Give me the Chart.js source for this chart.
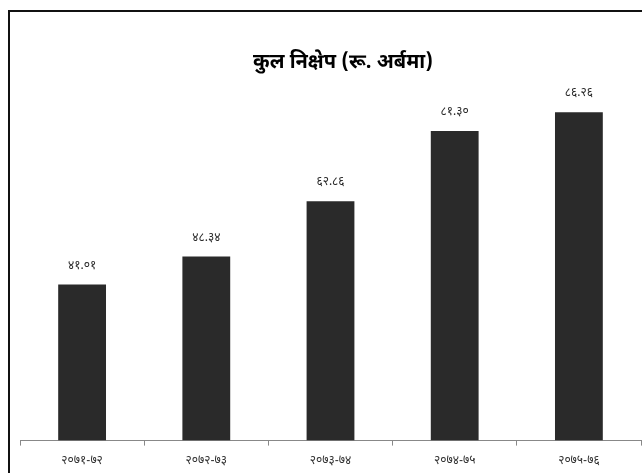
<!DOCTYPE html>
<html>
<head>
<meta charset="utf-8">
<script src="https://cdn.jsdelivr.net/npm/chart.js@4/dist/chart.umd.min.js"></script>
<style>
  html, body { margin: 0; padding: 0; background: #ffffff; overflow: hidden; }
  #wrap { position: relative; width: 642px; height: 473px; overflow: hidden; }
  #frame {
    position: absolute; left: 8px; top: 10px; width: 660px; height: 480px;
    border-left: 2px solid #111; border-top: 2px solid #111; box-sizing: border-box;
  }
  #box { position: absolute; left: 0; top: 0; width: 642px; height: 480px; }
</style>
</head>
<body>
<div id="wrap">
  <div id="frame"></div>
  <div id="box"><canvas id="chart"></canvas></div>
</div>
<script>
// कुल निक्षेप, आर्थिक वर्ष अनुसार (रू. अर्बमा)
const fiscalYears = ['२०७१-७२', '२०७२-७३', '२०७३-७४', '२०७४-७५', '२०७५-७६'];
const depositValues = [41.01, 48.34, 62.86, 81.30, 86.26];
const chartTitle = 'कुल निक्षेप (रू. अर्बमा)';

const devanagariDigits = ['०', '१', '२', '३', '४', '५', '६', '७', '८', '९'];
function toDevanagari(num) {
  return num.toFixed(2).replace(/[0-9]/g, d => devanagariDigits[+d]);
}

const fontStack = "'Noto Sans Devanagari', 'Noto Sans', 'DejaVu Sans', sans-serif";

// Heading over the bars
const headingText = {
  id: 'headingText',
  afterDraw(chart) {
    const ctx = chart.ctx;
    ctx.save();
    ctx.font = 'bold 20px ' + fontStack;
    ctx.fillStyle = '#000000';
    ctx.textAlign = 'center';
    ctx.textBaseline = 'middle';
    ctx.fillText(chartTitle, 343, 64);
    ctx.restore();
  }
};

// Writes each bar's value just above it
const valueLabels = {
  id: 'valueLabels',
  afterDatasetsDraw(chart) {
    const ctx = chart.ctx;
    const meta = chart.getDatasetMeta(0);
    ctx.save();
    ctx.font = '12px ' + fontStack;
    ctx.fillStyle = '#2a2a2a';
    ctx.textAlign = 'center';
    ctx.textBaseline = 'middle';
    meta.data.forEach((bar, i) => {
      ctx.fillText(toDevanagari(depositValues[i]), bar.x, bar.y - 18);
    });
    ctx.restore();
  }
};

new Chart(document.getElementById('chart'), {
  type: 'bar',
  data: {
    labels: fiscalYears,
    datasets: [{
      data: depositValues,
      backgroundColor: '#2a2a2a',
      borderWidth: 0,
      barPercentage: 0.77,
      categoryPercentage: 0.5
    }]
  },
  options: {
    responsive: true,
    maintainAspectRatio: false,
    animation: false,
    layout: { padding: { left: 20, right: 1, top: 80, bottom: 2 } },
    plugins: {
      legend: { display: false },
      tooltip: { enabled: false },
      title: { display: false }
    },
    scales: {
      x: {
        grid: { display: true, drawOnChartArea: false, drawTicks: true, tickLength: 5, color: '#888888', offset: true },
        border: { display: true, color: '#888888', width: 1 },
        ticks: { color: '#333333', font: { family: fontStack, size: 12 }, padding: 9 }
      },
      y: {
        display: false,
        min: 0,
        max: 94.7
      }
    }
  },
  plugins: [valueLabels, headingText]
});
</script>
</body>
</html>
